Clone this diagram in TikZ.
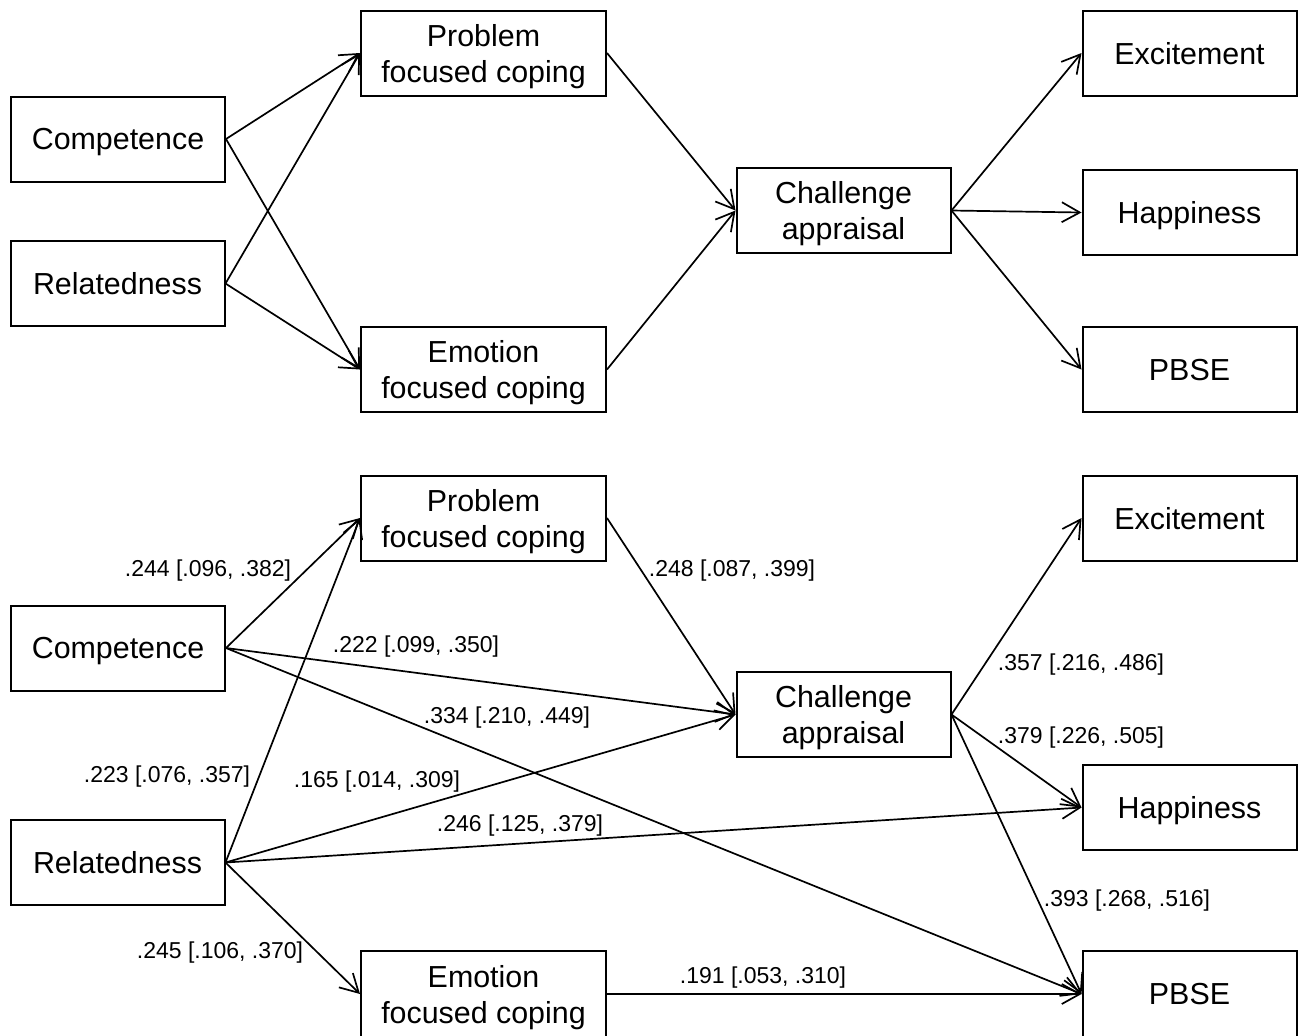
\documentclass[tikz,border=0pt]{standalone}
\usepackage{fontspec}
\setmainfont{Liberation Sans}
\usetikzlibrary{positioning,arrows.meta}

\begin{document}
\begin{tikzpicture}[x=0.5pt,y=-0.5pt,
    box/.style={draw, line width=1pt, minimum width=107pt, minimum height=42.5pt, inner sep=0pt, text depth=0pt, align=center, font=\fontsize{15.2}{18}\selectfont},
    cope/.style={box, minimum width=122.5pt},
    arr/.style={-{Straight Barb[length=9pt,width=10pt]}, line width=0.85pt},
    lbl/.style={font=\fontsize{11.5}{13}\selectfont, inner sep=0pt}]
    \useasboundingbox (0,0) rectangle (1304,1035);

    % Hypothesised model
    \node[box] (C1) at (118,139) {Competence};
    \node[box] (R1) at (117.5,283.5) {Relatedness};
    \node[cope] (P1) at (483.5,53) {Problem\\focused coping};
    \node[cope] (E1) at (483.5,369.5) {Emotion\\focused coping};
    \node[box] (A1) at (843.5,210.5) {Challenge\\appraisal};
    \node[box] (X1) at (1189.5,53) {Excitement};
    \node[box] (H1) at (1189.5,212.5) {Happiness};
    \node[box] (B1) at (1189.5,369.5) {PBSE};

    \draw[arr] (C1.east) -- (P1.west);
    \draw[arr] (C1.east) -- (E1.west);
    \draw[arr] (R1.east) -- (P1.west);
    \draw[arr] (R1.east) -- (E1.west);
    \draw[arr] (P1.east) -- (A1.west);
    \draw[arr] (E1.east) -- (A1.west);
    \draw[arr] (A1.east) -- (X1.west);
    \draw[arr] (A1.east) -- (H1.west);
    \draw[arr] (A1.east) -- (B1.west);

    % Final model with estimates
    \node[cope] (P2) at (483.5,518) {Problem\\focused coping};
    \node[box] (C2) at (118,648) {Competence};
    \node[box] (A2) at (843.5,714.5) {Challenge\\appraisal};
    \node[box] (X2) at (1189.5,518) {Excitement};
    \node[box] (H2) at (1189.5,807.5) {Happiness};
    \node[box] (R2) at (117.5,862.5) {Relatedness};
    \node[cope, minimum height=43pt] (E2) at (483.5,994) {Emotion\\focused coping};
    \node[box, minimum height=43pt] (B2) at (1189.5,994) {PBSE};

    \draw[arr] (C2.east) -- (P2.west);
    \draw[arr] (C2.east) -- (A2.west);
    \draw[arr] (C2.east) -- (B2.west);
    \draw[arr] (R2.east) -- (P2.west);
    \draw[arr] (R2.east) -- (A2.west);
    \draw[arr] (R2.east) -- (H2.west);
    \draw[arr] (R2.east) -- (E2.west);
    \draw[arr] (P2.east) -- (A2.west);
    \draw[arr] (E2.east) -- (B2.west);
    \draw[arr] (A2.east) -- (X2.west);
    \draw[arr] (A2.east) -- (H2.west);
    \draw[arr] (A2.east) -- (B2.west);

    % Estimates
    \node[lbl] (l1) at (208,571) {.244 [.096, .382]};
    \node[lbl] (l2) at (732,571) {.248 [.087, .399]};
    \node[lbl] (l3) at (416,647) {.222 [.099, .350]};
    \node[lbl] (l4) at (507,718) {.334 [.210, .449]};
    \node[lbl] (l5) at (1081,665) {.357 [.216, .486]};
    \node[lbl] (l6) at (1081,738) {.379 [.226, .505]};
    \node[lbl] (l7) at (167,777) {.223 [.076, .357]};
    \node[lbl] (l8) at (377,782) {.165 [.014, .309]};
    \node[lbl] (l9) at (520,826) {.246 [.125, .379]};
    \node[lbl] (l10) at (1127,901) {.393 [.268, .516]};
    \node[lbl] (l11) at (220,953) {.245 [.106, .370]};
    \node[lbl] (l12) at (763,978) {.191 [.053, .310]};

\end{tikzpicture}
\end{document}
